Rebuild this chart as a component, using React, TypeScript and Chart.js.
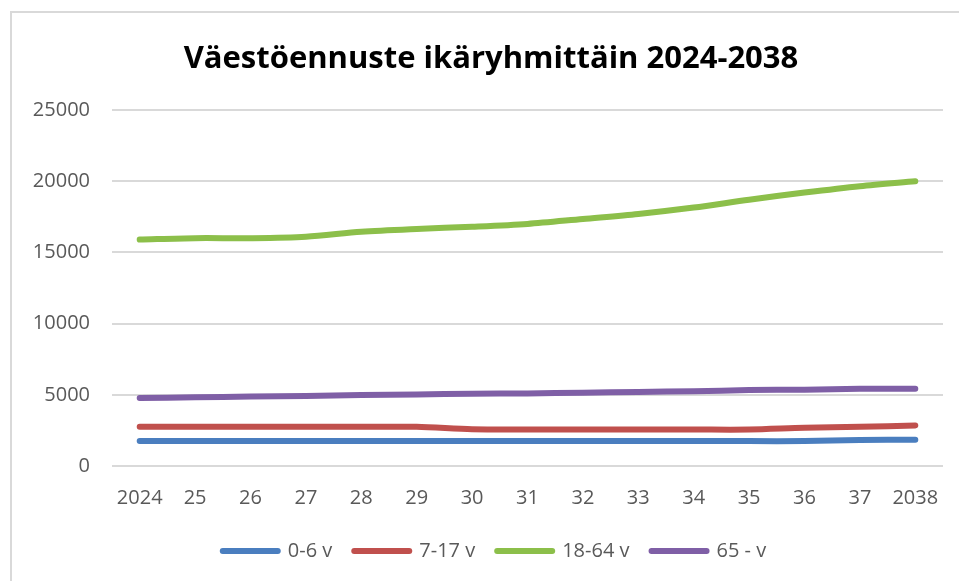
import React, { useEffect, useRef } from "react";
import { Chart, registerables } from "chart.js";

Chart.register(...registerables);

const categories = ["2024", "25", "26", "27", "28", "29", "30", "31", "32", "33", "34", "35", "36", "37", "2038"];
const age0to6 = [1750, 1750, 1750, 1750, 1750, 1750, 1750, 1750, 1750, 1750, 1750, 1750, 1750, 1820, 1850];
const age7to17 = [2750, 2750, 2750, 2750, 2750, 2750, 2580, 2560, 2560, 2560, 2560, 2560, 2680, 2750, 2850];
const age18to64 = [15900, 16000, 16000, 16100, 16450, 16650, 16800, 17000, 17350, 17700, 18150, 18700, 19200, 19650, 20000];
const age65plus = [4780, 4820, 4880, 4920, 4980, 5020, 5080, 5100, 5150, 5200, 5250, 5330, 5360, 5420, 5420];
const seriesNames = ["0-6 v", "7-17 v", "18-64 v", "65 - v"];
const seriesColors = ["#4a7ebf", "#c0504d", "#8cbf4a", "#7f5fa6"];
const titleText = "Väestöennuste ikäryhmittäin 2024-2038";
const yTicks = [0, 5000, 10000, 15000, 20000, 25000];

const FONT = "'Open Sans', sans-serif";
const LEGEND_SHIFT = 18;

export default function App() {
  const ref = useRef<HTMLCanvasElement | null>(null);
  useEffect(() => {
    document.body.style.margin = "0";
    const values = [age0to6, age7to17, age18to64, age65plus];
    const chart = new Chart(ref.current!, {
      type: "line",
      data: {
        labels: categories,
        datasets: values.map((v, i) => ({
          label: seriesNames[i],
          data: v,
          borderColor: seriesColors[i],
          backgroundColor: seriesColors[i],
          borderWidth: 6,
          borderCapStyle: "round" as const,
          borderJoinStyle: "round" as const,
          pointRadius: 0,
          tension: 0.3,
          fill: false,
        })),
      },
      plugins: [
        {
          id: "legendShift",
          afterLayout: (c: any) => {
            if (c.legend) {
              c.legend.left += LEGEND_SHIFT;
              c.legend.right += LEGEND_SHIFT;
            }
          },
        },
      ],
      options: {
        animation: false,
        responsive: false,
        layout: { padding: { left: 0, right: 29, top: 99, bottom: 10 } },
        plugins: {
          tooltip: { enabled: false },
          title: { display: false },
          legend: {
            position: "bottom",
            labels: {
              color: "#595959",
              font: { family: FONT, size: 20 },
              usePointStyle: true,
              pointStyle: "line",
              pointStyleWidth: 55,
              boxHeight: 6,
              padding: 22,
              generateLabels: (c: any) =>
                c.data.datasets.map((d: any, i: number) => ({
                  text: d.label,
                  fillStyle: d.borderColor,
                  strokeStyle: d.borderColor,
                  lineWidth: 6,
                  lineCap: "round",
                  pointStyle: "line",
                  fontColor: "#595959",
                  datasetIndex: i,
                  hidden: false,
                })),
            },
          },
        },
        scales: {
          x: {
            offset: true,
            grid: { display: false },
            border: { display: false },
            ticks: { color: "#595959", font: { family: FONT, size: 20 }, padding: 12, maxRotation: 0, autoSkip: false },
            afterFit: (s: any) => { s.height = 53; },
          },
          y: {
            min: 0,
            max: 25000,
            afterBuildTicks: (s: any) => { s.ticks = yTicks.map((v) => ({ value: v })); },
            grid: { color: "#d9d9d9", lineWidth: 2, drawTicks: false },
            border: { display: false },
            ticks: {
              color: "#595959",
              font: { family: FONT, size: 20 },
              padding: 22,
              callback: (v: any) => String(v),
            },
            afterFit: (s: any) => { s.width = 102; },
          },
        },
      },
    });
    return () => chart.destroy();
  }, []);
  return (
    <div style={{ position: "fixed", left: 0, top: 0, width: 959, height: 581, overflow: "hidden", background: "#fff" }}>
      <div style={{ position: "absolute", left: 10, top: 11, width: 962, height: 570, borderLeft: "2px solid #d9d9d9", borderTop: "2px solid #d9d9d9", boxSizing: "border-box" }} />
      <canvas ref={ref} width={962} height={570} style={{ position: "absolute", left: 10, top: 11 }} />
      <div style={{ position: "absolute", left: 0, top: 38, width: 982, textAlign: "center", fontFamily: FONT, fontWeight: 700, fontSize: 31, lineHeight: "37px", color: "#000", whiteSpace: "nowrap" }}>
        {titleText}
      </div>
    </div>
  );
}
